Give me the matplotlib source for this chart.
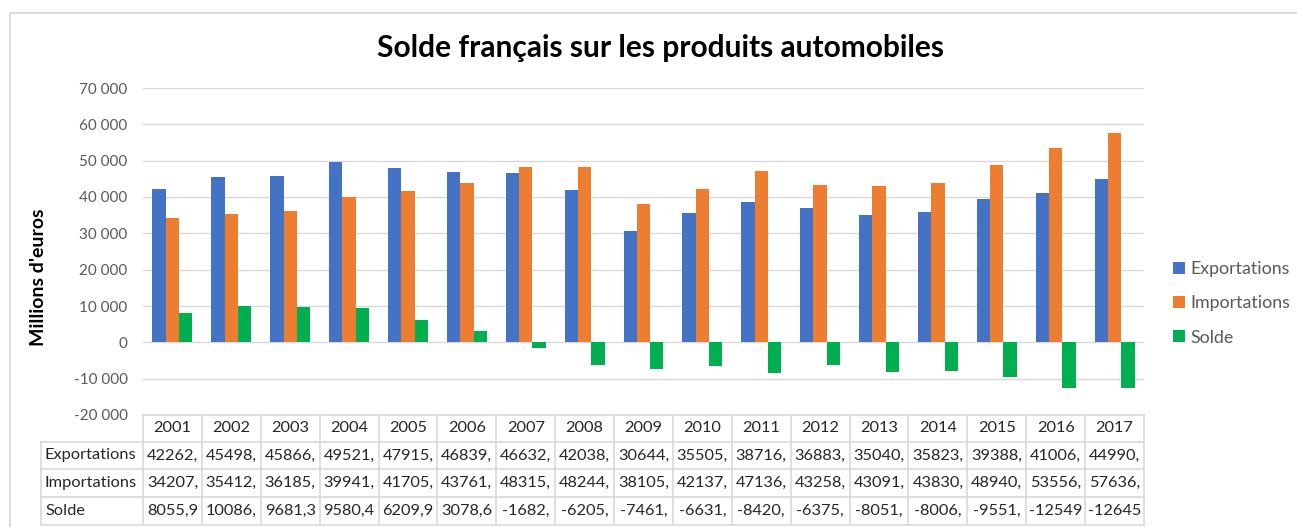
import matplotlib
matplotlib.use('Agg')
import matplotlib.pyplot as plt
import matplotlib.transforms as mtransforms
from matplotlib.lines import Line2D
from matplotlib.patches import Rectangle
from matplotlib.ticker import FuncFormatter
import numpy as np

plt.rcParams['font.family'] = ['Lato', 'DejaVu Sans']

# Données (millions d'euros)
annees = ['2001', '2002', '2003', '2004', '2005', '2006', '2007', '2008', '2009',
          '2010', '2011', '2012', '2013', '2014', '2015', '2016', '2017']
exportations = [42262, 45498, 45866, 49521, 47915, 46839, 46632, 42038, 30644,
                35505, 38716, 36883, 35040, 35823, 39388, 41006, 44990]
importations = [34207, 35412, 36185, 39941, 41705, 43761, 48315, 48244, 38105,
                42137, 47136, 43258, 43091, 43830, 48940, 53556, 57636]
solde = [8055.9, 10086, 9681.3, 9580.4, 6209.9, 3078.6, -1682, -6205, -7461,
         -6631, -8420, -6375, -8051, -8006, -9551, -12549, -12645]
series = ['Exportations', 'Importations', 'Solde']
couleurs = ['#4472C4', '#ED7D31', '#00B050']

W, H = 1297, 527


def fx(p):
    return p / W


def fy(p):
    return 1 - p / H


def cellule(v):
    # Excel coupe le texte à la largeur de la cellule
    return f"{v:.1f}".replace('.', ',')[:6]


fig = plt.figure(figsize=(W / 100, H / 100), dpi=100)
fig.add_artist(Rectangle((fx(10), -0.1), 1.2, fy(13) + 0.1, transform=fig.transFigure,
                         fill=False, edgecolor='#D9D9D9', lw=1.3))

left, right, top, bottom = 143, 1144, 88, 415
ax = fig.add_axes([fx(left), fy(bottom), fx(right) - fx(left), (bottom - top) / H])

x = np.arange(len(annees))
w = 0.226
for i, (vals, nom, c) in enumerate(zip([exportations, importations, solde], series, couleurs)):
    ax.bar(x + (i - 1) * w, vals, w, color=c, label=nom)

ax.set_xlim(-0.5, len(annees) - 0.5)
ax.set_ylim(-20000, 70000)
ax.set_yticks(range(-20000, 70001, 10000))
ax.yaxis.set_major_formatter(FuncFormatter(lambda v, p: f"{v:,.0f}".replace(',', ' ')))
ax.set_xticks([])
ax.tick_params(axis='y', length=0, pad=11, labelsize=11, labelcolor='#595959')
ax.yaxis.grid(True, color='#D9D9D9', lw=1)
ax.set_axisbelow(True)
for s in ax.spines.values():
    s.set_visible(False)

fig.text(fx(661), fy(48), 'Solde français sur les produits automobiles',
         ha='center', va='center', fontsize=21.5, fontweight='bold', color='black')
fig.text(fx(38), fy(277), "Millions d'euros", rotation=90, ha='center', va='center',
         fontsize=14, fontweight='bold', color='black')

ax.legend(loc='upper left', bbox_to_anchor=(fx(1173), fy(261)), bbox_transform=fig.transFigure,
          frameon=False, fontsize=12.8, labelcolor='#595959', handlelength=0.65,
          handleheight=0.65, handletextpad=0.35, labelspacing=1.03, borderpad=0, borderaxespad=0)

# Table de données sous le graphique
trans = mtransforms.blended_transform_factory(ax.transData, fig.transFigure)
lignes = [415, 442, 469, 497, 525]
tab_left = 41
gris = '#D9D9D9'
fig.add_artist(Line2D([fx(left), fx(right)], [fy(lignes[0])] * 2, color=gris, lw=1.2))
for yp in lignes[1:]:
    fig.add_artist(Line2D([fx(tab_left), fx(right)], [fy(yp)] * 2, color=gris, lw=1.2))
fig.add_artist(Line2D([fx(tab_left)] * 2, [fy(lignes[1]), fy(lignes[-1])], color=gris, lw=1.2))
for k in range(len(annees) + 1):
    ax.add_artist(Line2D([k - 0.5] * 2, [fy(lignes[0]), fy(lignes[-1])], color=gris, lw=1.2,
                         transform=trans, clip_on=False))

ymid = [(lignes[i] + lignes[i + 1]) / 2 for i in range(4)]
for i, a in enumerate(annees):
    ax.text(i, fy(ymid[0]), a, transform=trans, ha='center', va='center',
            fontsize=11.8, color='#262626', clip_on=False)
for r, (nom, vals) in enumerate(zip(series, [exportations, importations, solde])):
    fig.text(fx(tab_left + 4), fy(ymid[r + 1]), nom, ha='left', va='center',
             fontsize=11.8, color='#262626')
    for i, v in enumerate(vals):
        ax.text(i, fy(ymid[r + 1]), cellule(v), transform=trans, ha='center', va='center',
                fontsize=11.8, color='#262626', clip_on=False)

fig.savefig('out.png', dpi=100)
